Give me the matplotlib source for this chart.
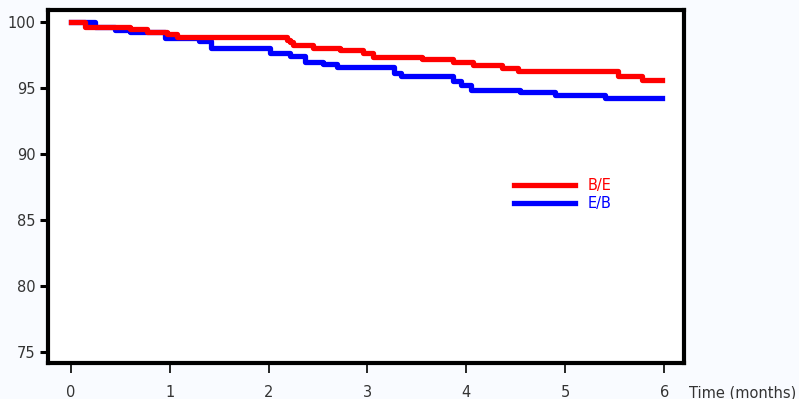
import matplotlib
matplotlib.use('Agg')
import matplotlib.pyplot as plt

# step curves (time in months, percent)
be_time = [0, 0.14, 0.60, 0.77, 0.97, 1.07, 2.19, 2.22, 2.25, 2.45, 2.72, 2.96, 3.06,
           3.55, 3.87, 4.07, 4.36, 4.52, 5.53, 5.78, 5.98]
be_surv = [100, 99.62, 99.45, 99.24, 99.07, 98.86, 98.65, 98.44, 98.23, 98.0, 97.83, 97.63, 97.37,
           97.17, 96.97, 96.74, 96.54, 96.31, 95.89, 95.61, 95.61]

eb_time = [0, 0.25, 0.45, 0.60, 0.95, 1.30, 1.42, 2.01, 2.22, 2.37, 2.55, 2.69, 3.27, 3.34,
           3.87, 3.95, 4.05, 4.54, 4.90, 5.40, 5.98]
eb_surv = [100, 99.62, 99.39, 99.22, 98.81, 98.58, 98.0, 97.63, 97.42, 96.99, 96.8, 96.59, 96.16, 95.93,
           95.55, 95.25, 94.85, 94.7, 94.45, 94.22, 94.22]

x_ticks = [0, 1, 2, 3, 4, 5, 6]
y_ticks = [75, 80, 85, 90, 95, 100]

plt.rcParams['font.family'] = 'DejaVu Sans'

fig = plt.figure(figsize=(7.99, 3.99), dpi=100, facecolor='#f9fbff')
ax = fig.add_axes([0.060, 0.0902, 0.796, 0.885])
ax.set_facecolor('white')

ax.step(be_time, be_surv, where='post', color='#ff0000', linewidth=3.8, label='B/E', zorder=3)
ax.step(eb_time, eb_surv, where='post', color='#0000ff', linewidth=3.8, label='E/B', zorder=2)

ax.set_xlim(-0.23, 6.2)
ax.set_ylim(74.2, 100.9)
ax.set_xticks(x_ticks)
ax.set_yticks(y_ticks)

for s in ax.spines.values():
    s.set_linewidth(3)
    s.set_color('black')

ax.tick_params(axis='y', direction='out', length=6, width=2.2, pad=3,
               labelsize=10.5, labelcolor='#333333')
ax.tick_params(axis='x', direction='out', length=7, width=1.2, pad=9,
               labelsize=10.5, labelcolor='#333333')

ax.set_xlabel('Time (months)', fontsize=10.5, color='#333333', ha='left', va='center')
ax.xaxis.set_label_coords(1.008, -0.085)

ax.legend(
    loc='center left',
    bbox_to_anchor=(0.733, 0.477),
    frameon=False,
    handlelength=4.2,
    handletextpad=0.85,
    labelspacing=0.15,
    borderpad=0,
    borderaxespad=0,
    fontsize=10.5,
    labelcolor='linecolor'
)

plt.savefig('out.png', dpi=100, facecolor=fig.get_facecolor())
